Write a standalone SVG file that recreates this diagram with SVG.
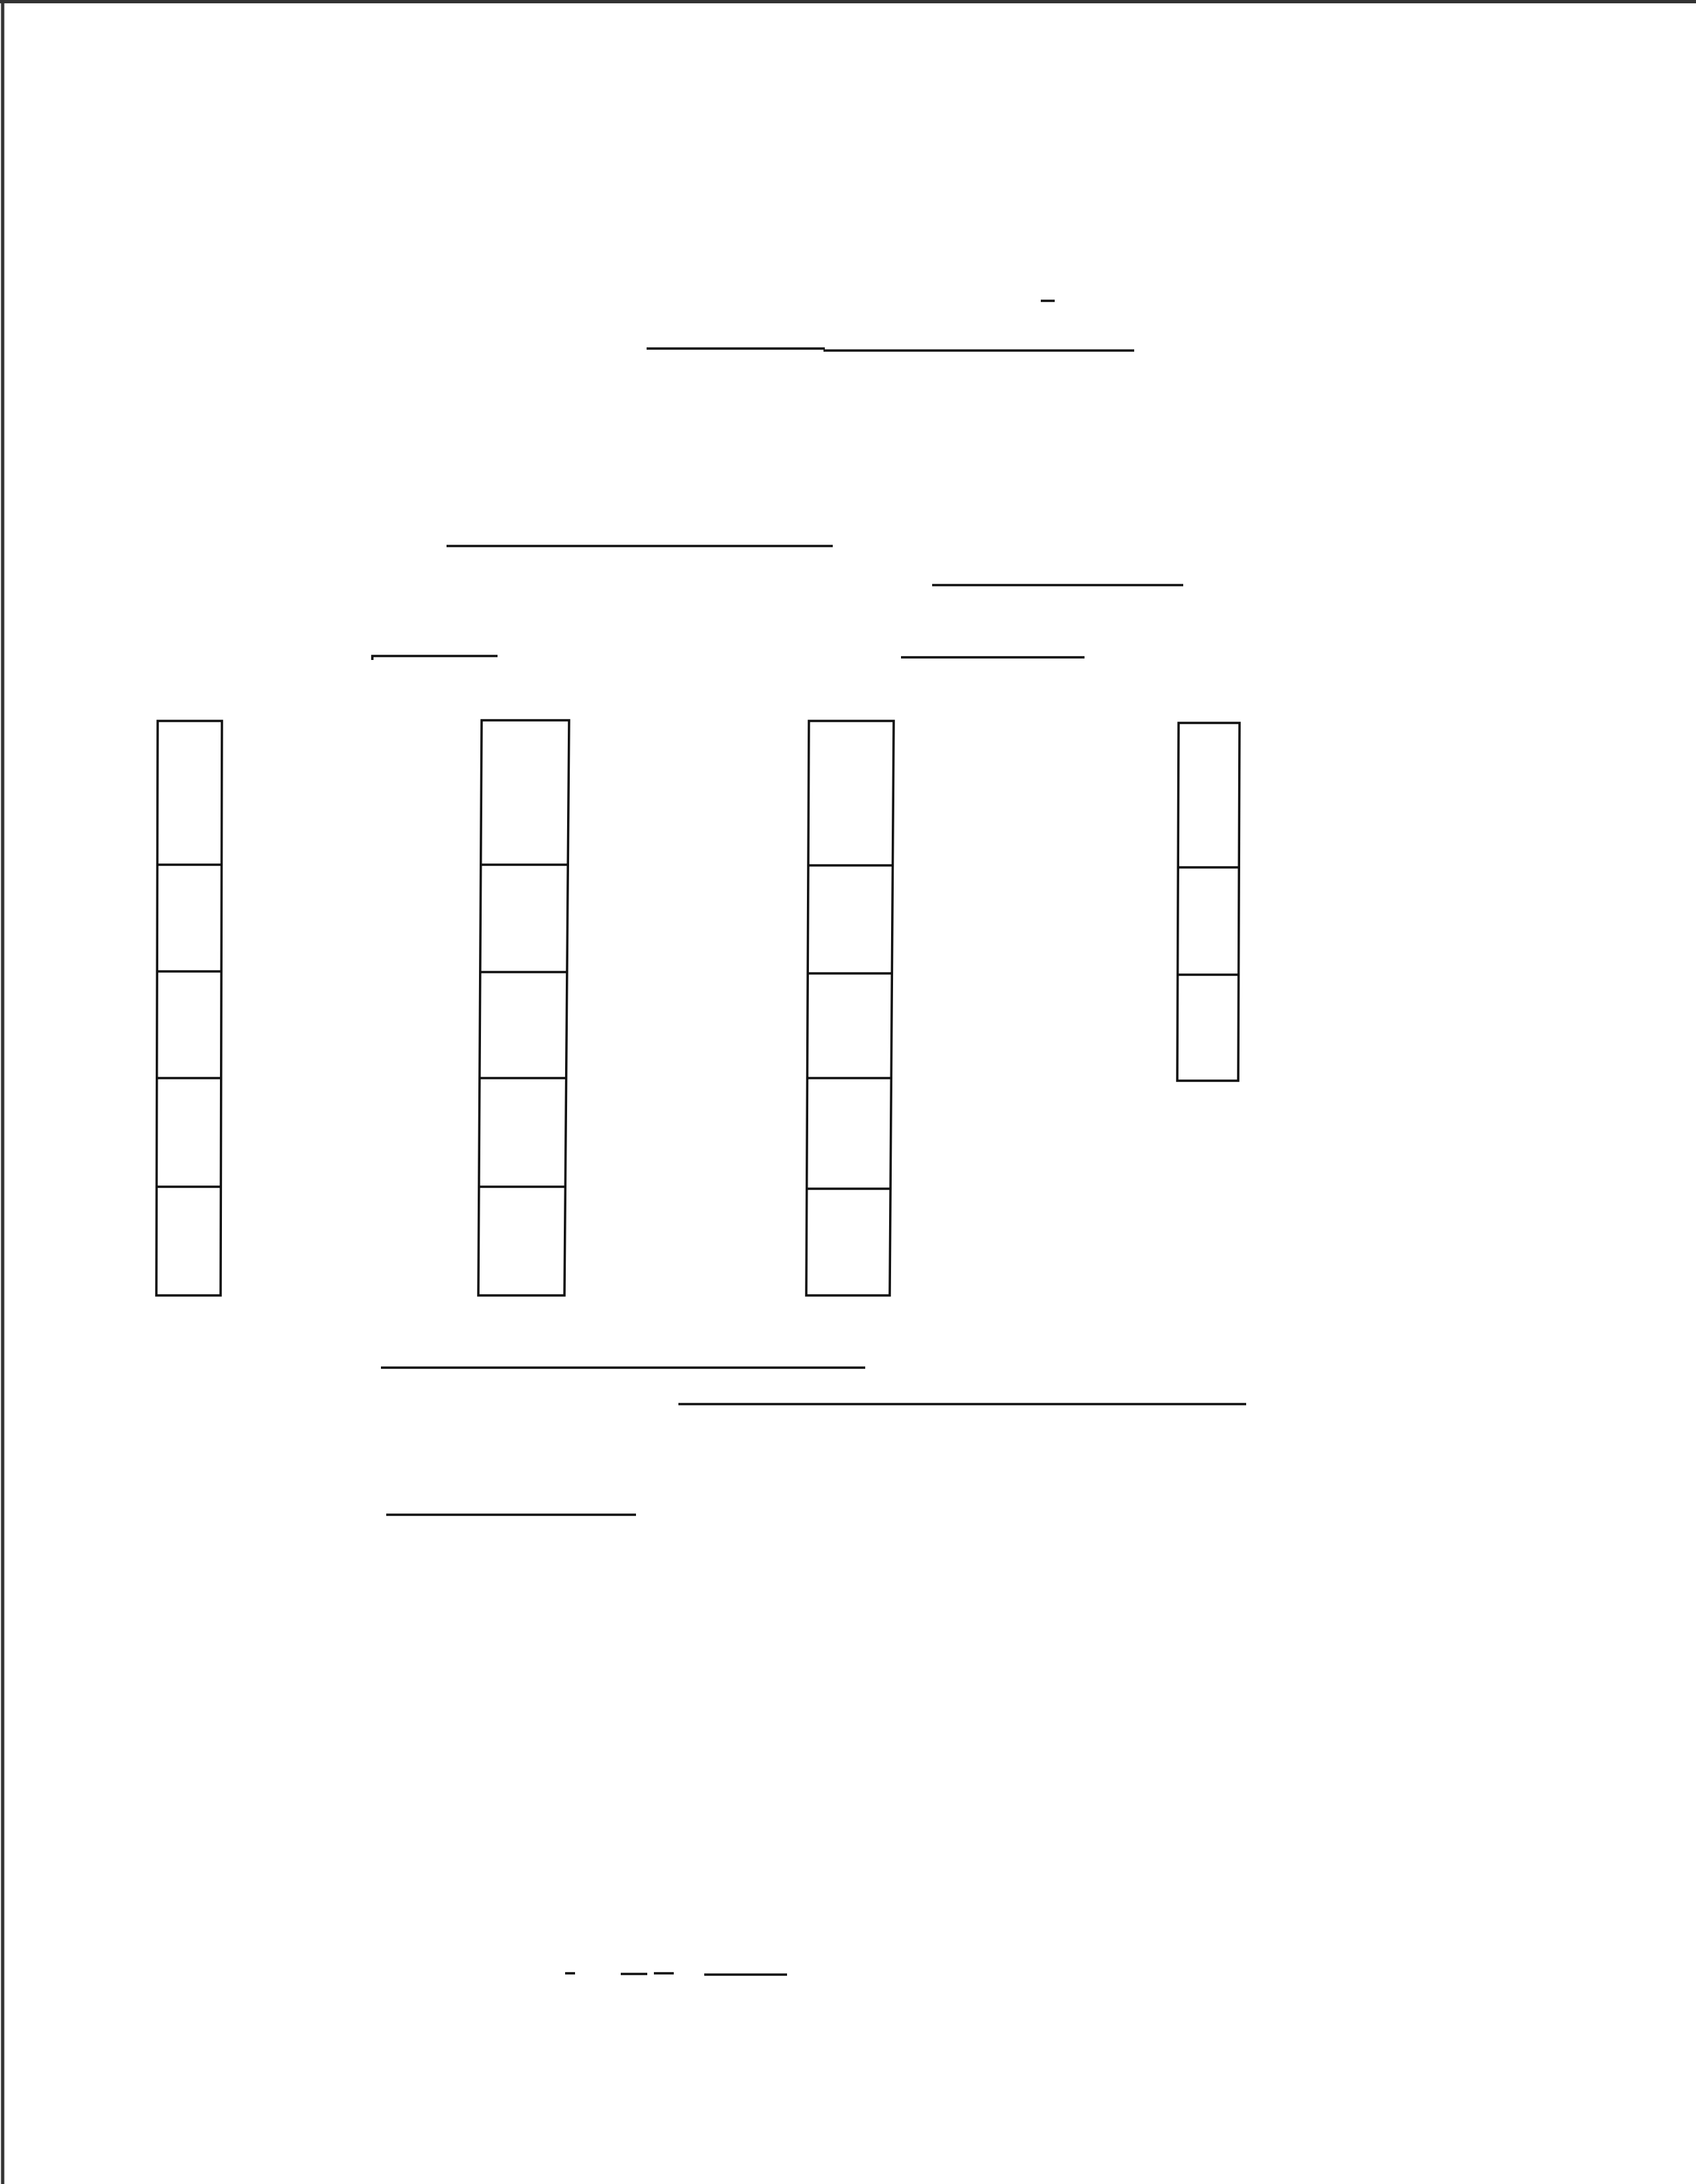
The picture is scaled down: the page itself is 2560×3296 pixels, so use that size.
<svg xmlns="http://www.w3.org/2000/svg" width="2560" height="3296" viewBox="0 0 2560 3296">
<style>
.box{fill:none;stroke:#111;stroke-width:3.5}
.div{stroke:#111;stroke-width:3.5}
.ul{stroke:#111;stroke-width:3.5;fill:none}
.edge{stroke:#333;fill:none}
</style>
<rect width="2560" height="3296" fill="#fff"/>
<g id="page-edge">
<line class="edge" x1="0" y1="2.5" x2="2560" y2="2.5" stroke-width="5"/>
<line class="edge" x1="4" y1="0" x2="4" y2="3296" stroke-width="5"/>
</g>
<g id="underlines">
<line class="ul" x1="976" y1="526" x2="1245" y2="526"/>
<line class="ul" x1="1243" y1="529" x2="1712" y2="529"/>
<line class="ul" x1="1571" y1="454" x2="1592" y2="454" stroke-width="3"/>
<line class="ul" x1="674" y1="824" x2="1257" y2="824" stroke-width="4.5"/>
<line class="ul" x1="1407" y1="883" x2="1786" y2="883" stroke-width="4"/>
<polyline class="ul" points="562,996 562,990 751,990"/>
<line class="ul" x1="1360" y1="992" x2="1637" y2="992" stroke-width="6"/>
<line class="ul" x1="575" y1="2064" x2="1306" y2="2064" stroke-width="4"/>
<line class="ul" x1="1024" y1="2119" x2="1881" y2="2119" stroke-width="4"/>
<line class="ul" x1="583" y1="2286" x2="960" y2="2286" stroke-width="4.5"/>
<line class="ul" x1="853" y1="2978" x2="868" y2="2978" stroke-width="3"/>
<line class="ul" x1="937" y1="2979" x2="977" y2="2979" stroke-width="3.5"/>
<line class="ul" x1="987" y1="2978" x2="1017" y2="2978" stroke-width="2.5"/>
<line class="ul" x1="1063" y1="2980" x2="1188" y2="2980" stroke-width="3.5"/>
</g>
<g id="column-1">
<polygon class="box" points="238,1088 335,1088 333,1955 236,1955"/>
<line class="div" x1="237" y1="1305" x2="334" y2="1305"/>
<line class="div" x1="237" y1="1466" x2="334" y2="1466"/>
<line class="div" x1="236" y1="1627" x2="334" y2="1627"/>
<line class="div" x1="236" y1="1791" x2="333" y2="1791"/>
</g>
<g id="column-2">
<polygon class="box" points="727,1087 859,1087 852,1955 722,1955"/>
<line class="div" x1="726" y1="1305" x2="857" y2="1305"/>
<line class="div" x1="725" y1="1467" x2="856" y2="1467"/>
<line class="div" x1="724" y1="1627" x2="855" y2="1627"/>
<line class="div" x1="723" y1="1791" x2="853" y2="1791"/>
</g>
<g id="column-3">
<polygon class="box" points="1221,1088 1349,1088 1343,1955 1217,1955"/>
<line class="div" x1="1220" y1="1306" x2="1347" y2="1306"/>
<line class="div" x1="1219" y1="1469" x2="1346" y2="1469"/>
<line class="div" x1="1218" y1="1627" x2="1345" y2="1627"/>
<line class="div" x1="1217" y1="1794" x2="1344" y2="1794"/>
</g>
<g id="column-4">
<polygon class="box" points="1779,1091 1871,1091 1869,1631 1777,1631"/>
<line class="div" x1="1778" y1="1309" x2="1870" y2="1309"/>
<line class="div" x1="1778" y1="1471" x2="1870" y2="1471"/>
</g>
</svg>
